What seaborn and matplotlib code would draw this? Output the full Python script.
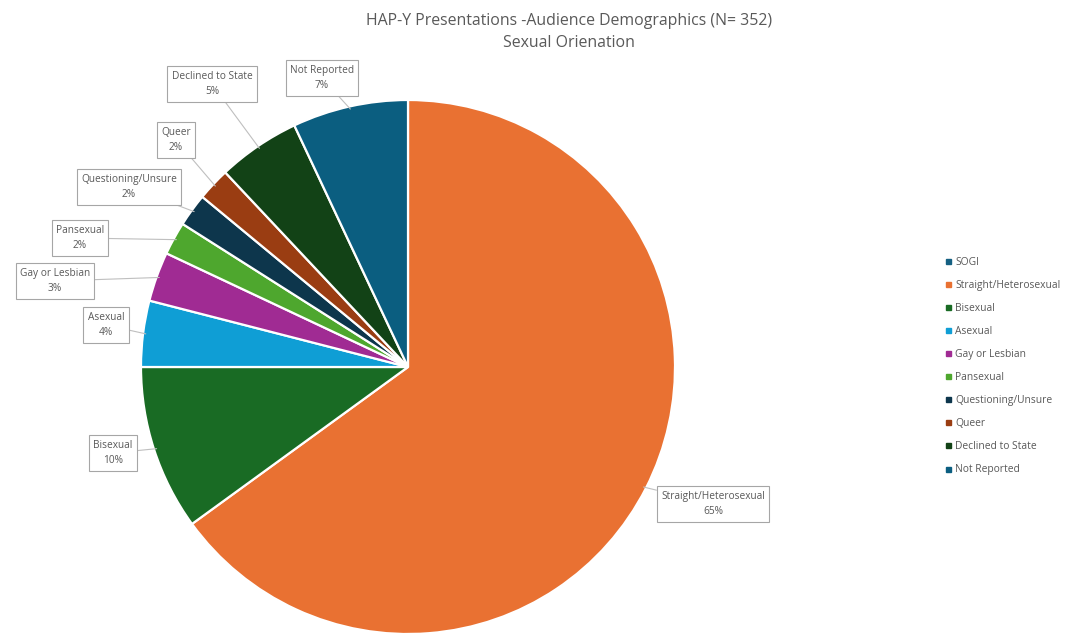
import numpy as np
import matplotlib
matplotlib.use("Agg")
import matplotlib.pyplot as plt
from matplotlib.lines import Line2D
import seaborn as sns

# Series name plus categories (the series name has no share of its own)
categories = ["SOGI", "Straight/Heterosexual", "Bisexual", "Asexual", "Gay or Lesbian",
              "Pansexual", "Questioning/Unsure", "Queer", "Declined to State", "Not Reported"]
shares = [0, 65, 10, 4, 3, 2, 2, 2, 5, 7]
colors = ["#156082", "#E97132", "#196B24", "#0F9ED5", "#A02B93",
          "#4EA72E", "#0D364C", "#9A3D12", "#124216", "#0B5E80"]

# Callout box centres (pixels from the figure's top-left corner)
label_pos = {
    "Straight/Heterosexual": (713, 504),
    "Bisexual": (113, 453),
    "Asexual": (106, 325),
    "Gay or Lesbian": (55, 281),
    "Pansexual": (80, 238),
    "Questioning/Unsure": (129, 187),
    "Queer": (176, 140),
    "Declined to State": (212, 84),
    "Not Reported": (322, 78),
}

sns.set_theme(style="white")
plt.rcParams["font.family"] = ["Open Sans", "DejaVu Sans"]

W, H = 1065, 633
fig = plt.figure(figsize=(W / 100, H / 100), dpi=100)
fig.patch.set_facecolor("white")

cx, cy, r = 408, 367, 267
ax = fig.add_axes([(cx - r) / W, (H - cy - r) / H, 2 * r / W, 2 * r / H])

pie_idx = [i for i, v in enumerate(shares) if v > 0]
vals = [shares[i] for i in pie_idx]
wedges, _ = ax.pie(vals, colors=[colors[i] for i in pie_idx], startangle=90,
                   counterclock=False, radius=1.0,
                   wedgeprops=dict(edgecolor="white", linewidth=1.6))
ax.set_xlim(-1, 1)
ax.set_ylim(-1, 1)
ax.set_aspect("equal")
ax.axis("off")

gray_text = "#595959"
total = sum(vals)
for w, i in zip(wedges, pie_idx):
    name = categories[i]
    mid = np.deg2rad((w.theta1 + w.theta2) / 2)
    target = (0.99 * np.cos(mid), 0.99 * np.sin(mid))
    px, py = label_pos[name]
    tx, ty = (px - cx) / r, (cy - py) / r
    pct = round(100 * shares[i] / total)
    ax.annotate(f"{name}\n{pct}%", xy=target, xytext=(tx, ty),
                ha="center", va="center", fontsize=7.3, color=gray_text,
                linespacing=1.6, annotation_clip=False,
                bbox=dict(boxstyle="square,pad=0.42", fc="white", ec="#A6A6A6", lw=0.8),
                arrowprops=dict(arrowstyle="-", color="#BFBFBF", lw=0.8,
                                shrinkA=0, shrinkB=0))

fig.text(569 / W, 1 - 21 / H, "HAP-Y Presentations -Audience Demographics (N= 352)",
         ha="center", va="center", fontsize=11.4, color=gray_text)
fig.text(569 / W, 1 - 43 / H, "Sexual Orienation",
         ha="center", va="center", fontsize=11.4, color=gray_text)

handles = [Line2D([0], [0], marker="s", linestyle="none", markersize=3.6,
                  markerfacecolor=c, markeredgecolor=c) for c in colors]
fig.legend(handles, categories, loc="center left",
           bbox_to_anchor=(945 / W, 1 - 366 / H), frameon=False,
           fontsize=7.4, labelcolor=gray_text, handlelength=0.6,
           handletextpad=0.4, labelspacing=1.17, borderpad=0, borderaxespad=0)

fig.savefig("out.png", dpi=100, facecolor="white")
